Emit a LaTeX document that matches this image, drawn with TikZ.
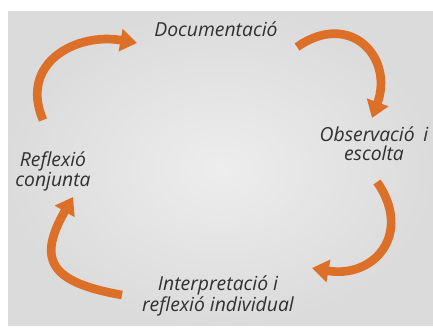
\documentclass[tikz,border=0pt]{standalone}
\usepackage{fontspec}
\setmainfont{Open Sans}
\usetikzlibrary{positioning,arrows.meta}

\definecolor{cycorange}{HTML}{DD7028}
\definecolor{textgray}{HTML}{303030}

\begin{document}
\begin{tikzpicture}
[
   x=0.03cm, y=0.03cm,
   align=center,
   font=\itshape\fontsize{16.5}{16}\selectfont
]

\tikzset{stage/.style = {text=textgray, inner sep=0pt}}
\tikzset{cyclearrow/.style = {-{Triangle[width=0.66cm,length=0.5cm]}, color=cycorange, line width=0.26cm}}

\useasboundingbox (0,0) rectangle (433,331);
\shade[inner color=black!7, outer color=black!14] (8,6) rectangle (433,319);

% nodes
\node[stage] (doc) at (216,302) {Documentació};
\node[stage] (obs) at (374,187) {Observació\hspace{0.45em}i\\escolta};
\node[stage] (refl) at (53,160) {Reflexió\\conjunta};
\node[stage] (interp) at (218,35) {Interpretació i\\reflexió individual};

% arrow ends
\coordinate (refl out) at (43,211);
\coordinate (doc in) at (137,288);
\coordinate (doc out) at (297,284);
\coordinate (obs in) at (372,213);
\coordinate (obs out) at (377,149);
\coordinate (interp in) at (312,63);
\coordinate (interp out) at (122,36);
\coordinate (refl in) at (73,134);

% arcs
\draw[cyclearrow] (refl out) to[out=113, in=170, looseness=1.3] (doc in);
\draw[cyclearrow] (doc out) to[out=35, in=70, looseness=1.6] (obs in);
\draw[cyclearrow] (obs out) to[out=-55, in=-10, looseness=1.5] (interp in);
\draw[cyclearrow] (interp out) to[out=170, in=240, looseness=1.7] (refl in);
\end{tikzpicture}
\end{document}
